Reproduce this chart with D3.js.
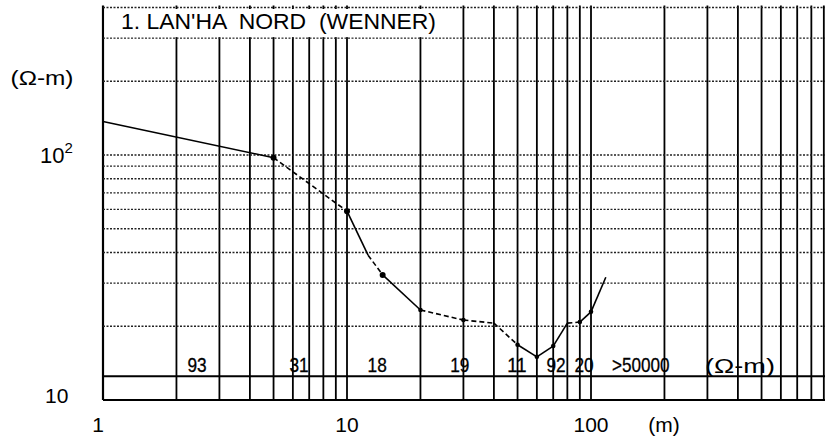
<!DOCTYPE html>
<html><head><meta charset="utf-8">
<script src="https://cdn.jsdelivr.net/npm/d3@7"></script>
<style>body{margin:0;background:#fff;}svg{display:block;}</style>
</head><body>
<svg id="c" width="825" height="441"></svg>
<script>
// Data: electrode half-spacing AB/2 (m) and apparent resistivity (Ω-m)
const spacing = [1, 5, 10, 12.2, 14, 20, 30, 40, 50, 60, 70, 80, 90, 100, 115];
const rhoA    = [137, 97.5, 59, 39, 32.4, 23.3, 21.2, 20.6, 16.8, 15.0, 16.6, 20.6, 20.8, 22.9, 31.7];
// segment i joins point i and i+1: true = dashed
const segDashed = [false, true, false, true, false, true, true, true, false, false, false, true, false, false];
const markerAt  = [5, 10, 14, 20, 30, 50, 60, 70, 90, 100];
// Layer resistivities and their positions along the spacing axis
const layerLabels = ["93", "31", "18", "19", "11", "92", "20", ">50000"];
const layerPos    = [2.43, 6.36, 13.3, 29, 49.7, 71.9, 93.6, 160];
const xTickLabels = ["1", "10", "100"];
const xTickVals   = [1, 10, 100];
const yGridVals   = [20, 30, 40, 50, 60, 70, 80, 90, 100, 200, 300, 400];
const layerLineRho = 12.5;
const title = "1. LAN'HA  NORD  (WENNER)";

const svg = d3.select("#c");
const x = d3.scaleLog().domain([1, 1000]).range([103, 835]);
const y = d3.scaleLog().domain([10, 400]).range([400, 400 - 245 * Math.log10(40)]);

// vertical grid
const vlines = [];
for (let d = 0; d < 3; d++) for (let k = 1; k <= 9; k++) { const v = k * Math.pow(10, d); if (x(v) <= 826) vlines.push(v); }
svg.append("g").selectAll("line").data(vlines).join("line")
  .attr("x1", d => x(d)).attr("x2", d => x(d))
  .attr("y1", y(400) - 2).attr("y2", y(10))
  .attr("stroke", "#000").attr("stroke-width", d => d === 1 ? 2.2 : 1.8);

// horizontal grid (dotted)
svg.append("g").selectAll("line").data(yGridVals).join("line")
  .attr("x1", x(1)).attr("x2", 825)
  .attr("y1", d => y(d)).attr("y2", d => y(d))
  .attr("stroke", "#222").attr("stroke-width", 1.3).attr("stroke-dasharray", "2,1.5");

// bottom & layer line
svg.append("line").attr("x1", x(1)).attr("x2", 825).attr("y1", y(10)).attr("y2", y(10))
  .attr("stroke", "#000").attr("stroke-width", 2.2);
svg.append("line").attr("x1", x(1)).attr("x2", 825).attr("y1", y(layerLineRho)).attr("y2", y(layerLineRho))
  .attr("stroke", "#000").attr("stroke-width", 2.2);

const font = "Liberation Sans, Arial, sans-serif";
// title box
svg.append("rect").attr("x", x(1) + 1.5).attr("y", y(400) + 1.5).attr("width", 354).attr("height", y(300) - y(400) - 2.5).attr("fill", "#fff");
svg.append("text").attr("x", 121).attr("y", 28.5).attr("font-family", font)
  .attr("font-size", 22.5).attr("textLength", 315).attr("lengthAdjust", "spacingAndGlyphs")
  .style("white-space", "pre").text(title);

// curve
const pts = spacing.map((s, i) => [x(s), y(rhoA[i])]);
const line = d3.line();
segDashed.forEach((dsh, i) => {
  svg.append("path").attr("d", line([pts[i], pts[i + 1]])).attr("fill", "none")
    .attr("stroke", "#000").attr("stroke-width", 1.6)
    .attr("stroke-dasharray", dsh ? "5,3" : null);
});
svg.append("g").selectAll("circle").data(markerAt).join("circle")
  .attr("cx", d => x(d)).attr("cy", d => y(rhoA[spacing.indexOf(d)]))
  .attr("r", d => (d === 5 || d === 10 || d === 14) ? 3 : 2.3).attr("fill", "#000");

// layer labels (condensed)
svg.append("g").selectAll("text").data(layerLabels).join("text")
  .attr("x", (d, i) => x(layerPos[i])).attr("y", 372)
  .attr("text-anchor", "middle").attr("font-family", "Liberation Sans Narrow, Liberation Sans, Arial, sans-serif")
  .attr("font-size", 21).attr("stroke", "#000").attr("stroke-width", 0.3)
  .attr("textLength", d => d.length * 9.6).attr("lengthAdjust", "spacingAndGlyphs")
  .text(d => d);
svg.append("text").attr("x", x(408)).attr("y", 373).attr("text-anchor", "middle")
  .attr("font-family", font).attr("font-size", 21)
  .attr("textLength", 70).attr("lengthAdjust", "spacingAndGlyphs").text("(Ω-m)");

// axis labels
svg.append("g").selectAll("text").data(xTickVals).join("text")
  .attr("x", d => d === 1 ? x(d) - 5 : x(d)).attr("y", 432).attr("text-anchor", "middle")
  .attr("font-family", font).attr("font-size", 21).text((d, i) => xTickLabels[i]);
svg.append("text").attr("x", 664).attr("y", 432).attr("text-anchor", "middle")
  .attr("font-family", font).attr("font-size", 21).text("(m)");
svg.append("text").attr("x", 42).attr("y", 85).attr("text-anchor", "middle")
  .attr("font-family", font).attr("font-size", 21)
  .attr("textLength", 63).attr("lengthAdjust", "spacingAndGlyphs").text("(Ω-m)");
const t2 = svg.append("text").attr("x", 40).attr("y", 163).attr("font-family", font).attr("font-size", 22);
t2.append("tspan").text("10");
t2.append("tspan").attr("dy", -10).attr("font-size", 15).text("2");
svg.append("text").attr("x", 45).attr("y", 403).attr("font-family", font).attr("font-size", 21).text("10");
</script>
</body></html>
